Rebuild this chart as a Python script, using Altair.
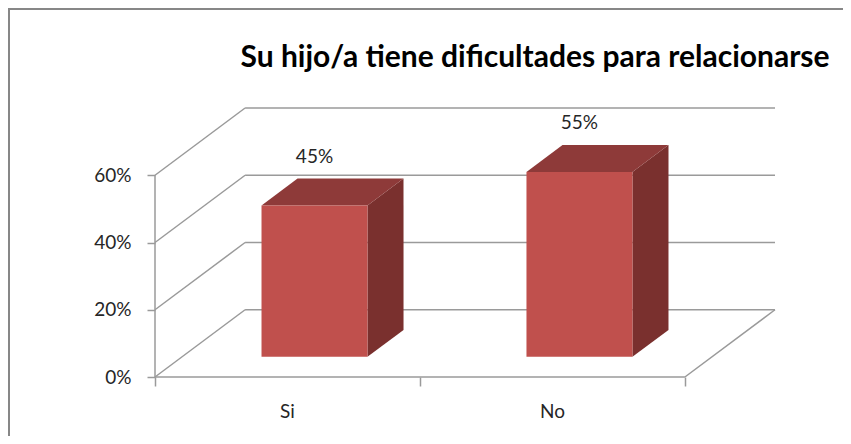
import altair as alt
import pandas as pd

# ---- data ----
categories = ["Si", "No"]
values = [0.45, 0.55]
y_ticks = [0, 0.2, 0.4, 0.6]
x_ticks = [0, 1, 2]
title_text = "Su hijo/a tiene dificultades para relacionarse"

# ---- 3D geometry (in data units) ----
DX = 0.34          # depth offset along category axis
DY = 0.2           # depth offset along value axis
D0, D1 = 0.3, 0.7  # bar depth extent (fraction of depth)
W0, W1 = 0.3, 0.7  # bar width within a category slot

FONT = "Lato"
GRID = "#9a9a9a"
FRONT = "#C0504D"
TOP = "#8E3A39"
SIDE = "#7A302E"
TXT = "#262626"

xs = alt.Scale(domain=[0, len(categories) + DX], nice=False, zero=False)
ys = alt.Scale(domain=[0, max(y_ticks) + DY], nice=False, zero=False)
ax_x = alt.Axis(values=x_ticks, labels=False, domain=False, grid=False,
                tickSize=9, tickColor=GRID, tickWidth=1.5, title=None)
ax_y = alt.Axis(values=y_ticks, format=".0%", domain=False, grid=False,
                tickSize=8, tickColor=GRID, tickWidth=1.5, title=None,
                labelFont=FONT, labelFontSize=19, labelColor=TXT, labelPadding=16)

# grid / wall lines
rules = []
for v in y_ticks:
    rules.append(dict(x=DX, y=v + DY, x2=len(categories) + DX, y2=v + DY))
    rules.append(dict(x=0, y=v, x2=DX, y2=v + DY))
rules.append(dict(x=0, y=0, x2=len(categories), y2=0))
rules.append(dict(x=len(categories), y=0, x2=len(categories) + DX, y2=DY))
rules.append(dict(x=0, y=0, x2=0, y2=max(y_ticks)))
rules_df = pd.DataFrame(rules)

front, top, side, labels, cats = [], [], [], [], []
for i, (c, v) in enumerate(zip(categories, values)):
    front.append(dict(cat=c, x=i + W0 + D0 * DX, x2=i + W1 + D0 * DX,
                      y=D0 * DY, y2=v + D0 * DY))
    for d in (D0, D1):
        top.append(dict(cat=c, y=v + d * DY, x=i + W0 + d * DX, x2=i + W1 + d * DX))
        side.append(dict(cat=c, x=i + W1 + d * DX, y=v + d * DY, y2=d * DY))
    labels.append(dict(cat=c, x=i + 0.5 + D0 * DX, y=v, v=v))
    cats.append(dict(cat=c, x=i + 0.5, y=0))

grid = alt.Chart(rules_df).mark_rule(color=GRID, strokeWidth=1.5).encode(
    x=alt.X("x:Q", scale=xs, axis=ax_x),
    x2="x2:Q",
    y=alt.Y("y:Q", scale=ys, axis=ax_y),
    y2="y2:Q",
)

side_ch = alt.Chart(pd.DataFrame(side)).mark_area(color=SIDE, orient="vertical").encode(
    x=alt.X("x:Q", scale=xs, axis=ax_x),
    y=alt.Y("y:Q", scale=ys, axis=ax_y, stack=None),
    y2="y2:Q",
    detail="cat:N",
)

top_ch = alt.Chart(pd.DataFrame(top)).mark_area(color=TOP, orient="horizontal").encode(
    y=alt.Y("y:Q", scale=ys, axis=ax_y),
    x=alt.X("x:Q", scale=xs, axis=ax_x, stack=None),
    x2="x2:Q",
    detail="cat:N",
)

front_ch = alt.Chart(pd.DataFrame(front)).mark_rect(color=FRONT).encode(
    x=alt.X("x:Q", scale=xs, axis=ax_x),
    x2="x2:Q",
    y=alt.Y("y:Q", scale=ys, axis=ax_y),
    y2="y2:Q",
)

val_labels = alt.Chart(pd.DataFrame(labels)).mark_text(
    font=FONT, fontSize=19, color=TXT, baseline="middle", dy=-69
).encode(
    x=alt.X("x:Q", scale=xs, axis=ax_x),
    y=alt.Y("y:Q", scale=ys, axis=ax_y),
    text=alt.Text("v:Q", format=".0%"),
)

cat_labels = alt.Chart(pd.DataFrame(cats)).mark_text(
    font=FONT, fontSize=19, color=TXT, baseline="middle", dy=35
).encode(
    x=alt.X("x:Q", scale=xs, axis=ax_x),
    y=alt.Y("y:Q", scale=ys, axis=ax_y),
    text="cat:N",
)

frame = alt.Chart(pd.DataFrame({"a": [0]})).mark_rect(
    fillOpacity=0, stroke="#878787", strokeWidth=2
).encode(
    x=alt.value(-146), x2=alt.value(760), y=alt.value(-99), y2=alt.value(400)
)

title = alt.Chart(pd.DataFrame({"t": [title_text]})).mark_text(
    font=FONT, fontSize=30, fontWeight="bold", color="black",
    align="center", baseline="alphabetic"
).encode(x=alt.value(380), y=alt.value(-41), text="t:N")

chart = alt.layer(frame, grid, side_ch, top_ch, front_ch, val_labels, cat_labels, title).properties(
    width=620,
    height=269,
    padding={"left": 147, "top": 100, "right": 68, "bottom": 59},
    autosize=alt.AutoSizeParams(type="none"),
).configure_view(stroke=None)

chart.save("out.html", embed_options={"renderer": "svg", "actions": False})
